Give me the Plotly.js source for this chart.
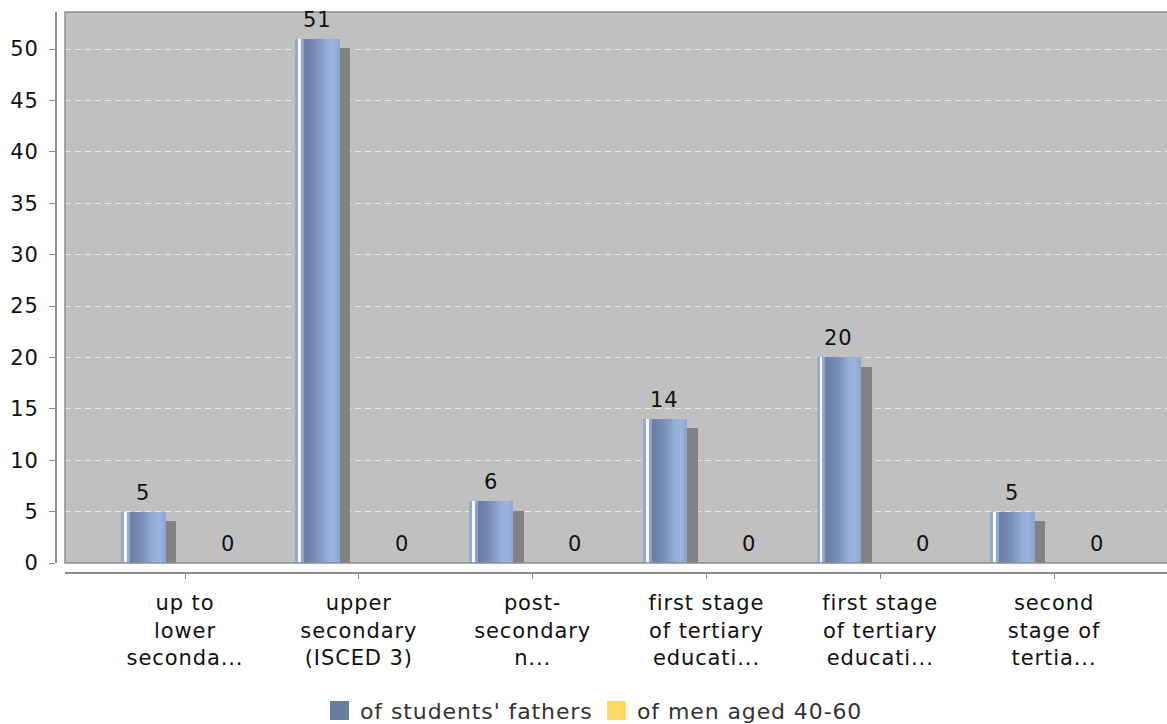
<!DOCTYPE html>
<html>
<head>
<meta charset="utf-8">
<script src="https://cdn.plot.ly/plotly-3.0.1.min.js"></script>
<style>
  html, body { margin: 0; padding: 0; background: #ffffff; overflow: hidden; }
  #chart { width: 1175px; height: 724px; }
  svg text { letter-spacing: 0.9px; }
</style>
</head>
<body>
<div id="chart"></div>
<script>
// Education level categories (tick text, already shortened)
const categories = [
  "up to<br>lower<br>seconda...",
  "upper<br>secondary<br>(ISCED 3)",
  "post-<br>secondary<br>n...",
  "first stage<br>of tertiary<br>educati...",
  "first stage<br>of tertiary<br>educati...",
  "second<br>stage of<br>tertia..."
];
const seriesNames = ["of students' fathers", "of men aged 40-60"];
const fathers = [5, 51, 6, 14, 20, 5];
const men = [0, 0, 0, 0, 0, 0];
const yTickVals = [0, 5, 10, 15, 20, 25, 30, 35, 40, 45, 50];

const xIdx = categories.map((_, i) => i);
const FONT = "DejaVu Sans, Liberation Sans, sans-serif";

// bar geometry in category units
const barW = 0.253;
const fathersOff = -0.366;
const menOff = 0.12;
const shadowDx = 0.063;
const shadowDy = 0.9;

// horizontal shading of the bar face
const stops = [
  [0.00, [147, 168, 206]],
  [0.06, [150, 171, 208]],
  [0.075, [250, 251, 253]],
  [0.13, [245, 247, 251]],
  [0.145, [150, 171, 210]],
  [0.19, [138, 160, 200]],
  [0.22, [104, 125, 164]],
  [0.50, [122, 145, 186]],
  [0.75, [150, 176, 218]],
  [0.88, [154, 180, 222]],
  [1.00, [140, 164, 208]]
];
function shade(t) {
  for (let k = 1; k < stops.length; k++) {
    if (t <= stops[k][0]) {
      const a = stops[k - 1], b = stops[k];
      const u = (t - a[0]) / (b[0] - a[0] || 1);
      const c = a[1].map((v, j) => Math.round(v + (b[1][j] - v) * u));
      return `rgb(${c[0]},${c[1]},${c[2]})`;
    }
  }
  const c = stops[stops.length - 1][1];
  return `rgb(${c[0]},${c[1]},${c[2]})`;
}

const traces = [];

// drop shadow behind the fathers bars
traces.push({
  type: "bar", x: xIdx, y: fathers, base: -shadowDy,
  offset: fathersOff + shadowDx, width: barW,
  marker: { color: "#828282", line: { width: 0 } },
  hoverinfo: "skip", showlegend: false
});

// fathers bars drawn as thin vertical slices to get the shading
const slices = 30;
const sw = barW / slices;
for (let k = 0; k < slices; k++) {
  traces.push({
    type: "bar", x: xIdx, y: fathers,
    offset: fathersOff + k * sw, width: sw * 1.35,
    marker: { color: shade((k + 0.5) / slices), line: { width: 0 } },
    hoverinfo: "skip", showlegend: false, name: seriesNames[0]
  });
}

// men aged 40-60 (all zero)
traces.push({
  type: "bar", x: xIdx, y: men, offset: menOff, width: barW,
  marker: { color: "#ffd966", line: { width: 0 } },
  showlegend: false, name: seriesNames[1]
});

// value labels
const annotations = [];
fathers.forEach((v, i) => annotations.push({
  x: i + fathersOff + barW / 2, y: v, xref: "x", yref: "y",
  text: String(v), showarrow: false, yanchor: "bottom", yshift: 5,
  font: { family: FONT, size: 21, color: "#111" }
}));
men.forEach((v, i) => annotations.push({
  x: i + menOff + barW / 2, y: v, xref: "x", yref: "y",
  text: String(v), showarrow: false, yanchor: "bottom", yshift: 5,
  font: { family: FONT, size: 21, color: "#111" }
}));

// legend (squares + labels)
const W = 1119, H = 561, L = 56, T = 12;
const px = x => (x - L) / W;
const py = y => (T + H - y) / H;
const legendColors = ["#687ca0", "#ffd966"];
const legendX = [330, 607];
const shapes = [];
seriesNames.forEach((name, k) => {
  shapes.push({
    type: "rect", xref: "paper", yref: "paper",
    x0: px(legendX[k]), x1: px(legendX[k] + 19),
    y0: py(720), y1: py(701),
    fillcolor: legendColors[k], line: { width: 0 }
  });
  annotations.push({
    xref: "paper", yref: "paper", x: px(legendX[k] + 28), y: py(711),
    xanchor: "left", yanchor: "middle", showarrow: false, text: name,
    font: { family: FONT, size: 22, color: "#333" }
  });
});

// plot frame
shapes.push({
  type: "rect", xref: "x domain", yref: "y domain",
  x0: 0, x1: 1, y0: 0, y1: 1, layer: "above",
  line: { color: "#8c8c8c", width: 1.5 }
});

const layout = {
  width: 1175, height: 724,
  margin: { l: L, r: 0, t: T, b: 724 - T - H },
  paper_bgcolor: "#ffffff",
  plot_bgcolor: "#c0c0c0",
  barmode: "overlay",
  showlegend: false,
  font: { family: FONT, size: 21, color: "#111" },
  xaxis: {
    domain: [9 / W, 1],
    range: [-0.6904, 5.696],
    tickmode: "array", tickvals: xIdx, ticktext: categories,
    anchor: "free", position: 0,
    showline: true, linecolor: "#8c8c8c", linewidth: 2,
    ticks: "outside", ticklen: 5, tickcolor: "#8c8c8c", tickwidth: 1,
    ticklabelstandoff: 6,
    showgrid: false, zeroline: false,
    tickfont: { family: FONT, size: 21, color: "#111" }
  },
  yaxis: {
    domain: [10 / H, 1],
    range: [0, 53.6],
    tickmode: "array", tickvals: yTickVals,
    anchor: "free", position: 0,
    showline: true, linecolor: "#8c8c8c", linewidth: 2,
    ticks: "outside", ticklen: 6, tickcolor: "#8c8c8c", tickwidth: 1,
    ticklabelstandoff: 6,
    showgrid: true, gridcolor: "rgba(240,240,240,0.9)", gridwidth: 1,
    griddash: "6px,4px",
    zeroline: false,
    tickfont: { family: FONT, size: 21, color: "#111" }
  },
  shapes: shapes,
  annotations: annotations,
  bargap: 0
};

Plotly.newPlot("chart", traces, layout, { staticPlot: true, displayModeBar: false });
</script>
</body>
</html>
